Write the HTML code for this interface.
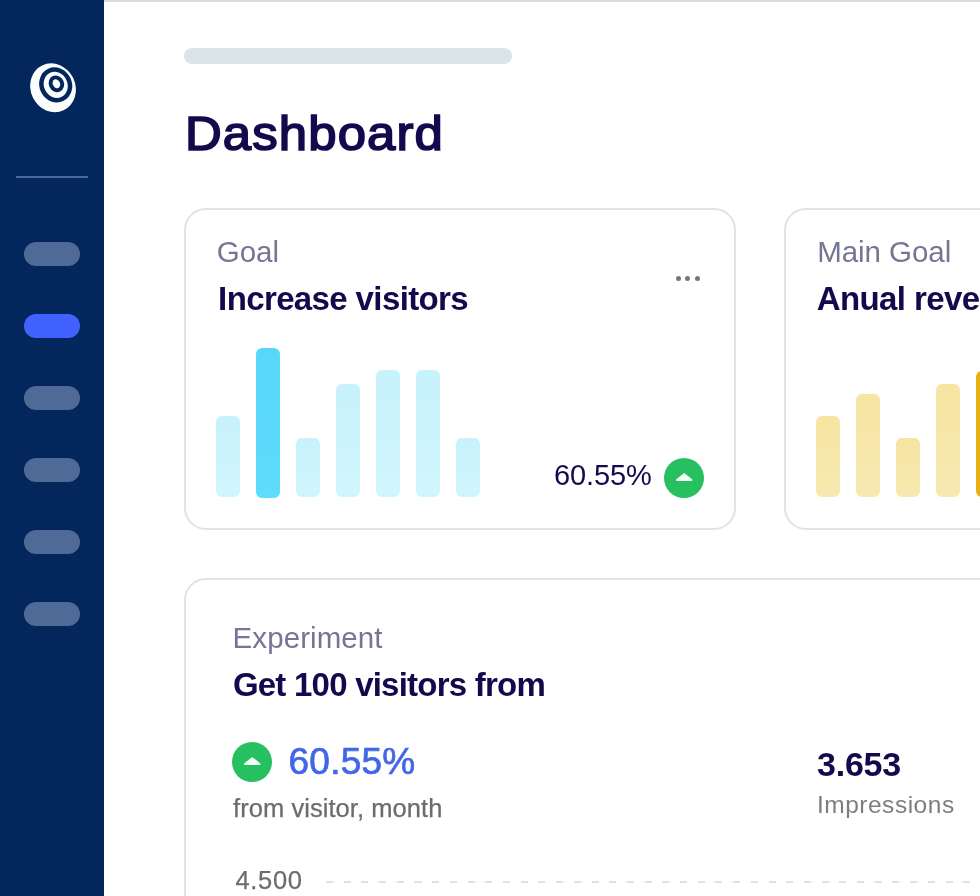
<!DOCTYPE html>
<html><head><meta charset="utf-8">
<style>
*{margin:0;padding:0;box-sizing:border-box}
html,body{width:980px;height:896px;overflow:hidden;background:#fff}
body{position:relative;font-family:"Liberation Sans",sans-serif;color:#130a4d}
.abs{position:absolute}
.side{left:0;top:0;width:104px;height:896px;background:#03265d}
.topline{left:104px;top:0;width:876px;height:2px;background:#dbdbdc}
.div{left:16px;top:176px;width:72px;height:2px;background:#4a69a4}
.pill{left:24px;width:56px;height:24px;border-radius:12px;background:#4f6a96}
.pill.on{background:#4262ff}
.sk{left:184px;top:48px;width:328px;height:16px;border-radius:8px;background:#dbe5e9}
.t{white-space:nowrap;line-height:1}
.h1{font-weight:400;color:#130a4d;-webkit-text-stroke:1.7px #130a4d;transform:scaleX(1.06);transform-origin:0 0}
.card{border:2px solid #e2e2e3;border-radius:22px;background:#fff}
.lbl{font-size:27px;color:#757595}
.ttl{font-size:29px;font-weight:700;color:#130a4d}
.bar{width:24px;border-radius:6px}
.b{background:linear-gradient(#c7f2fb,#d1f5fd)}
.b2{background:linear-gradient(#58d7f9,#5fdbfb)}
.y{background:linear-gradient(#f6e4a1,#f7e9b1)}
.y2{background:#e8b011}
.dot{width:5px;height:5px;border-radius:50%;background:#777}
</style></head><body>
<div class="abs side"></div>
<div class="abs topline"></div>
<svg class="abs" style="left:20px;top:54px" width="70" height="64" viewBox="20 54 70 64">
 <ellipse cx="53" cy="87.8" rx="22.4" ry="24.9" transform="rotate(-25 53 87.7)" fill="#fbfdff"/>
 <ellipse cx="55.7" cy="84.9" rx="14" ry="15.6" transform="rotate(-25 55.7 84.9)" fill="none" stroke="#03265d" stroke-width="4.5"/>
 <ellipse cx="56.4" cy="83.8" rx="5.6" ry="6.6" transform="rotate(-25 56.4 83.8)" fill="none" stroke="#03265d" stroke-width="3.9"/>
</svg>
<div class="abs div"></div>
<div class="abs pill" style="top:242px"></div>
<div class="abs pill on" style="top:314px"></div>
<div class="abs pill" style="top:386px"></div>
<div class="abs pill" style="top:458px"></div>
<div class="abs pill" style="top:530px"></div>
<div class="abs pill" style="top:602px"></div>

<div class="abs sk"></div>
<div class="abs t h1" id="h1" style="left:184.9px;top:110.3px;font-size:48px;letter-spacing:1.05px">Dashboard</div>

<div class="abs card" style="left:184px;top:208px;width:552px;height:322px"></div>
<div class="abs t lbl" id="l1" style="left:216.7px;top:236.6px;font-size:29.5px;letter-spacing:0.00px">Goal</div>
<div class="abs t ttl" id="t1" style="left:218.1px;top:282.0px;font-size:33px;letter-spacing:-0.62px">Increase visitors</div>
<div class="abs bar b" style="left:216px;top:416px;height:81px"></div>
<div class="abs bar b2" style="left:256px;top:348px;height:150px"></div>
<div class="abs bar b" style="left:296px;top:438px;height:59px"></div>
<div class="abs bar b" style="left:336px;top:384px;height:113px"></div>
<div class="abs bar b" style="left:376px;top:370px;height:127px"></div>
<div class="abs bar b" style="left:416px;top:370px;height:127px"></div>
<div class="abs bar b" style="left:456px;top:438px;height:59px"></div>
<div class="abs dot" style="left:676.1px;top:275.5px"></div>
<div class="abs dot" style="left:685.4px;top:275.5px"></div>
<div class="abs dot" style="left:694.8px;top:275.5px"></div>
<div class="abs t" id="p1" style="left:554.1px;top:461.2px;font-size:29px;color:#130a4d;letter-spacing:-0.12px">60.55%</div>
<svg class="abs" style="left:664px;top:458px" width="40" height="40" viewBox="0 0 40 40"><circle cx="20" cy="20" r="20" fill="#27c060"/><path d="M13 22 L20.200 16.200 L27.400 22 Z" fill="#f2fff6" stroke="#f2fff6" stroke-width="2" stroke-linejoin="round"/></svg>

<div class="abs card" style="left:784px;top:208px;width:260px;height:322px"></div>
<div class="abs t lbl" id="l2" style="left:817.2px;top:236.6px;font-size:29.5px;letter-spacing:-0.05px">Main Goal</div>
<div class="abs t ttl" id="t2" style="left:816.7px;top:282.0px;font-size:33px;letter-spacing:-0.6px">Anual revenue</div>
<div class="abs bar y" style="left:816px;top:416px;height:81px"></div>
<div class="abs bar y" style="left:856px;top:394px;height:103px"></div>
<div class="abs bar y" style="left:896px;top:438px;height:59px"></div>
<div class="abs bar y" style="left:936px;top:384px;height:113px"></div>
<div class="abs bar y2" style="left:976px;top:371px;height:126px"></div>

<div class="abs card" style="left:184px;top:578px;width:900px;height:400px"></div>
<div class="abs t lbl" id="l3" style="left:232.6px;top:622.6px;font-size:29.5px;letter-spacing:0.08px">Experiment</div>
<div class="abs t ttl" id="t3" style="left:232.9px;top:667.8px;font-size:33px;letter-spacing:-0.77px">Get 100 visitors from</div>
<svg class="abs" style="left:232px;top:742px" width="40" height="40" viewBox="0 0 40 40"><circle cx="20" cy="20" r="20" fill="#27c060"/><path d="M13 22 L20.200 16.200 L27.400 22 Z" fill="#f2fff6" stroke="#f2fff6" stroke-width="2" stroke-linejoin="round"/></svg>
<div class="abs t" id="p2" style="left:288.6px;top:742.5px;font-size:37px;color:#4266e8;-webkit-text-stroke:0.7px #4266e8;letter-spacing:0.20px">60.55%</div>
<div class="abs t" id="s1" style="left:233.0px;top:796.0px;font-size:25.5px;color:#6c6c6e;-webkit-text-stroke:0.25px #6c6c6e;letter-spacing:0.06px">from visitor, month</div>
<div class="abs t" id="n1" style="left:817.1px;top:747.2px;font-size:34px;font-weight:700;color:#130a4d;letter-spacing:-0.25px">3.653</div>
<div class="abs t" id="s2" style="left:816.9px;top:793.1px;font-size:24.5px;color:#7e7e81;letter-spacing:0.52px">Impressions</div>
<div class="abs t" id="ax" style="left:235.4px;top:868.0px;font-size:25.5px;color:#6c6c6e;-webkit-text-stroke:0.25px #6c6c6e;letter-spacing:0.68px">4.500</div>
<div class="abs" style="left:325.5px;top:881px;width:660px;height:2px;background:repeating-linear-gradient(90deg,#e1e1e3 0,#e1e1e3 7px,transparent 7px,transparent 17.7px)"></div>
</body></html>
